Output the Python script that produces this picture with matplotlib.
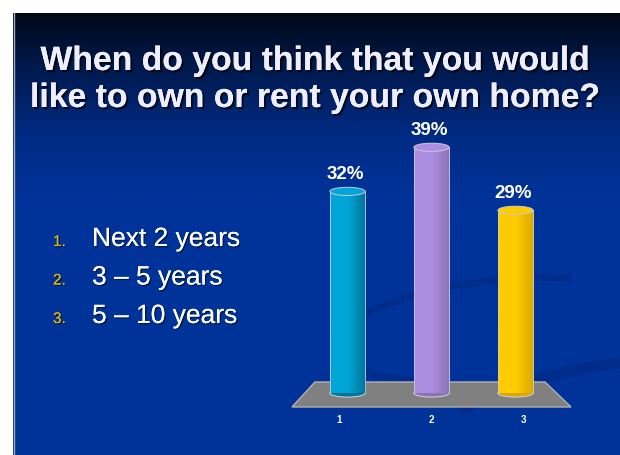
import numpy as np
import matplotlib
matplotlib.use("Agg")
import matplotlib.pyplot as plt
from matplotlib.patches import Ellipse, Polygon, Arc
import matplotlib.patheffects as pe
from matplotlib.colors import LinearSegmentedColormap

# ---- data ----
categories = ["1", "2", "3"]
options = ["Next 2 years", "3 – 5 years", "5 – 10 years"]
values = [32, 39, 29]
value_labels = ["32%", "39%", "29%"]
title_lines = ["When do you think that you would", "like to own or rent your own home?"]

bar_colors = [("#00a6d6", "#00759a"), ("#ad8de0", "#8a74b8"), ("#ffcc00", "#d9a800")]

W, H = 620, 455
fig = plt.figure(figsize=(W / 100, H / 100), dpi=100)
fig.patch.set_facecolor("white")

# ---- background slide ----
bg = fig.add_axes([0, 0, 1, 1])
bg.set_xlim(0, W)
bg.set_ylim(H, 0)
bg.axis("off")
grad_cmap = LinearSegmentedColormap.from_list(
    "slide",
    [(0.0, (0.0, 0.03, 0.09)), (0.12, (0.0, 0.10, 0.30)), (0.28, (0.0, 0.17, 0.52)),
     (0.42, (0.0, 0.20, 0.60)), (1.0, (0.0, 0.20, 0.60))])
g = np.linspace(0, 1, 256).reshape(-1, 1)
bg.imshow(g, cmap=grad_cmap, extent=[13, W, H, 13], aspect="auto", zorder=0)
bg.plot([13.5, 13.5], [13, H], color="#a0a8c0", lw=1, zorder=0.5)

# faint decorative swirls
bg.add_patch(Arc((500, 330), 330, 100, angle=-6, theta1=150, theta2=330,
                 color=(0.0, 0.14, 0.48), lw=5, alpha=0.45, zorder=0.6))
bg.add_patch(Arc((560, 420), 300, 90, angle=-15, theta1=200, theta2=360,
                 color=(0.0, 0.14, 0.48), lw=8, alpha=0.4, zorder=0.6))

shadow = [pe.withSimplePatchShadow(offset=(1.5, -1.5), shadow_rgbFace="black", alpha=0.7), pe.Normal()]
shadow_s = [pe.withSimplePatchShadow(offset=(1, -1), shadow_rgbFace="black", alpha=0.5), pe.Normal()]
for i, line in enumerate(title_lines):
    bg.text(315, 70 + i * 37, line, ha="center", va="baseline", color="#eeeeff",
            fontsize=24.3, fontweight="bold", family="Liberation Sans", path_effects=shadow, zorder=5)

for i, opt in enumerate(options):
    y = 246 + i * 38.5
    bg.text(53, y, f"{i + 1}.", ha="left", va="baseline", color="#e0b800",
            fontsize=11, family="Liberation Sans", path_effects=shadow_s, zorder=5)
    bg.text(92, y, opt, ha="left", va="baseline", color="white",
            fontsize=19, family="Liberation Sans", path_effects=shadow_s, zorder=5)

# ---- chart axes (data -> pixel: x_px = 431.5 + (x-1)*84, y_px = 393 - v*6.3) ----
sx, sy, x0, y0 = 84.0, 6.3, 431.5, 393.0
xlim = (-0.9, 2.9)
ylim = (-5, 45)
left = x0 + (xlim[0] - 1) * sx
right = x0 + (xlim[1] - 1) * sx
bottom = y0 - ylim[0] * sy
top = y0 - ylim[1] * sy
ax = fig.add_axes([left / W, (H - bottom) / H, (right - left) / W, (bottom - top) / H])
ax.set_xlim(*xlim)
ax.set_ylim(*ylim)
ax.axis("off")
ax.patch.set_alpha(0)

# floor
floor = Polygon([(-0.661, -2.22), (2.661, -2.22), (2.351, 1.75), (-0.387, 1.75)],
                closed=True, facecolor="#808080", edgecolor="#b0b0b0", lw=1.0, zorder=1)
ax.add_patch(floor)

x = np.arange(len(categories))
bw = 0.42
eh = 1.3
bars = ax.bar(x, values, width=bw, color=[c[0] for c in bar_colors], zorder=3,
              edgecolor="none")
for xi, v, (c1, c2), bar, lab, cat in zip(x, values, bar_colors, bars, value_labels, categories):
    cm = LinearSegmentedColormap.from_list("c", [c1, c1, c2])
    eb = Ellipse((xi, 0), bw, eh, facecolor=c2, edgecolor="#c8c8d8", lw=0.8, zorder=2.9)
    ax.add_patch(eb)
    im = ax.imshow(np.linspace(0, 1, 64).reshape(1, -1), cmap=cm, aspect="auto",
                   extent=[xi - bw / 2, xi + bw / 2, 0, v], zorder=3.1)
    im.set_clip_path(bar)
    ax.plot([xi - bw / 2, xi - bw / 2], [0, v], color="#c8c8d8", lw=0.6, zorder=3.2)
    ax.plot([xi + bw / 2, xi + bw / 2], [0, v], color="#c8c8d8", lw=0.6, zorder=3.2)
    et = Ellipse((xi, v), bw, eh, facecolor=c1, edgecolor="#c8c8d8", lw=0.7, zorder=3.3)
    ax.add_patch(et)
    ax.text(xi - 0.03, v + 2.0, lab, ha="center", va="baseline", color="white", fontsize=13.5,
            fontweight="bold", family="Liberation Sans", zorder=5)
    ax.text(xi + (xi - 1) * 0.1, -4.3, cat, ha="center", va="center", color="white", fontsize=7,
            fontweight="bold", family="Liberation Sans", zorder=5)

ax.set_xlim(*xlim)
ax.set_ylim(*ylim)

fig.savefig("out.png", dpi=100)
